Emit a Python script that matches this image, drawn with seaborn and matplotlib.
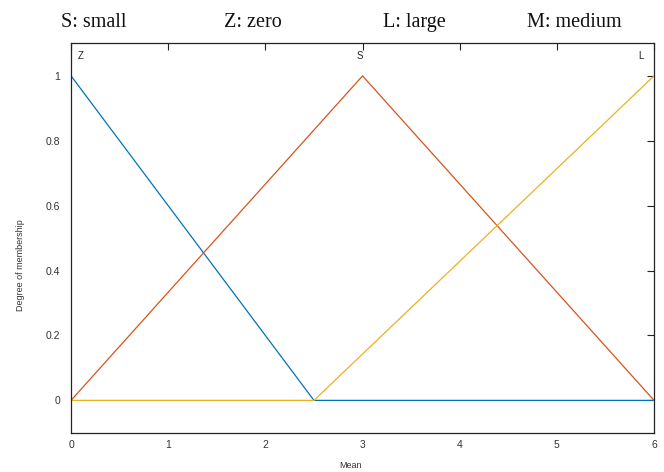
import matplotlib
matplotlib.use("Agg")
import matplotlib.pyplot as plt
import seaborn as sns
import pandas as pd

# Membership function breakpoints
z_x = [0, 2.5, 6]
z_y = [1, 0, 0]
s_x = [0, 3, 6]
s_y = [0, 1, 0]
l_x = [0, 2.5, 6]
l_y = [0, 0, 1]

series_names = ["Z", "S", "L"]
legend_texts = ["S: small", "Z: zero", "L: large", "M: medium"]
xticks = [0, 1, 2, 3, 4, 5, 6]
yticks = [0, 0.2, 0.4, 0.6, 0.8, 1]
ytick_labels = ["0", "0.2", "0.4", "0.6", "0.8", "1"]

sns.set_theme(style="white")
plt.rcParams['font.family'] = ['Liberation Sans', 'DejaVu Sans']

df = pd.concat([
    pd.DataFrame({"x": z_x, "y": z_y, "name": "Z"}),
    pd.DataFrame({"x": s_x, "y": s_y, "name": "S"}),
    pd.DataFrame({"x": l_x, "y": l_y, "name": "L"}),
])

palette = {"Z": "#0072BD", "S": "#D95319", "L": "#EDB120"}

fig = plt.figure(figsize=(6.64, 4.72), dpi=100)
ax = fig.add_axes([0.107, 0.083, 0.878, 0.825])
sns.lineplot(data=df, x="x", y="y", hue="name", palette=palette,
             linewidth=0.9, legend=False, ax=ax, sort=False, estimator=None)

ax.set_xlim(0, 6)
ax.set_ylim(-0.1, 1.1)
ax.set_xticks(xticks)
ax.set_yticks(yticks)
ax.set_yticklabels(ytick_labels)
ax.tick_params(direction="in", length=5, width=0.8, top=True, right=True,
               labelsize=7.5, colors="#222222", labelcolor="#333333")
ax.tick_params(axis="x", pad=5.5)
ax.tick_params(axis="y", pad=8)
for sp in ax.spines.values():
    sp.set_visible(True)
    sp.set_color("#222222")
    sp.set_linewidth(0.9)

ax.set_xlabel("Mean", fontsize=6.5, color="#333333")
ax.set_ylabel("Degree of membership", fontsize=6.5, color="#333333")
ax.xaxis.set_label_coords(0.479, -0.072)
ax.yaxis.set_label_coords(-0.079, 0.43)

# series labels at tops of peaks
label_pos = {"Z": 0.1, "S": 2.97, "L": 5.87}
for n in series_names:
    ax.text(label_pos[n], 1.06, n, fontsize=7, ha="center", va="center", color="#222222")

# serif header
text_x = [93.5, 252.5, 414.5, 574.5]
for t, px in zip(legend_texts, text_x):
    fig.text(px / 664, 1 - 27 / 472, t, fontsize=14.5, ha="center", va="baseline",
             family=["Liberation Serif", "DejaVu Serif"], color="#111111")

fig.savefig("out.png", dpi=100)
